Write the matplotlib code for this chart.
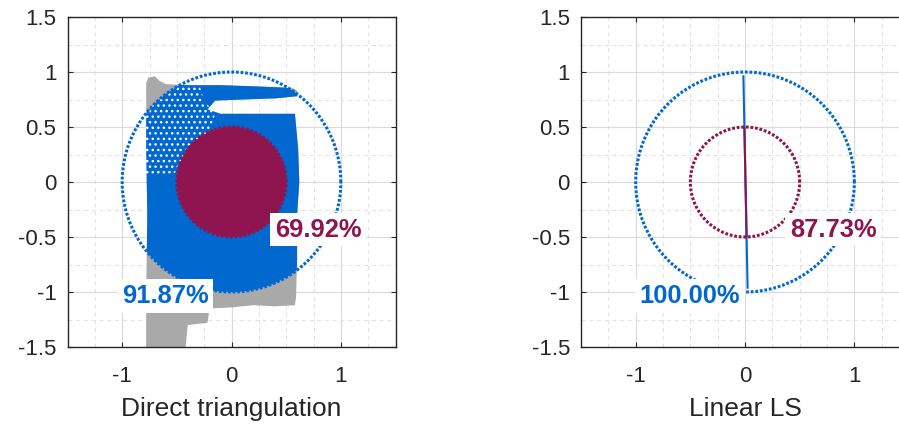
import numpy as np
import matplotlib
matplotlib.use("Agg")
import matplotlib.pyplot as plt
from matplotlib.patches import Polygon, Circle
from matplotlib.ticker import MultipleLocator

plt.rcParams["font.family"] = ["Liberation Sans", "DejaVu Sans"]

BLUE = "#0068CE"
MAROON = "#8E1550"
GRAY = "#A9A9A9"
INK = "#262626"

# error thresholds and share of estimates inside each of them
radii = [1.0, 0.5]
rates_direct = [91.87, 69.92]
rates_linear = [100.00, 87.73]
titles = ["Direct triangulation", "Linear LS"]

# footprint of the direct-triangulation estimates
cloud_x = [-0.78, -0.76, -0.70, -0.66, -0.60, -0.40, -0.10, 0.20, 0.45, 0.57,
           0.60, 0.60, 0.40, 0.10, -0.15, -0.22, -0.10, 0.30, 0.58, 0.61,
           0.62, 0.60, 0.60, 0.59, 0.58, 0.40, 0.20, 0.00, -0.20, -0.22,
           -0.40, -0.42, -0.78, -0.78, -0.77, -0.78]
cloud_y = [0.90, 0.95, 0.96, 0.92, 0.89, 0.88, 0.88, 0.87, 0.86, 0.85,
           0.83, 0.78, 0.76, 0.75, 0.74, 0.66, 0.62, 0.62, 0.62, 0.30,
           0.00, -0.30, -0.70, -1.05, -1.12, -1.13, -1.12, -1.14, -1.15, -1.28,
           -1.30, -1.50, -1.50, -1.00, -0.30, 0.30]

# thinly populated upper-left part of that footprint
sparse_x = [-0.80, -0.30, -0.25, -0.15, -0.20, -0.35, -0.45, -0.52, -0.80]
sparse_y = [0.97, 0.90, 0.74, 0.62, 0.45, 0.35, 0.22, 0.08, 0.05]

# linear LS estimates lie on a single segment
ls_x = [-0.015, 0.024]
ls_y = [0.97, -0.97]

# label anchors (left edge, baseline)
label_pos_outer = [(-1.0, -1.10), (-0.965, -1.10)]
label_pos_inner = [(0.395, -0.497), (0.41, -0.497)]

fig = plt.figure(figsize=(8.99, 4.34), dpi=100)
W, H = 899.0, 434.0
ax_left = fig.add_axes([67.5 / W, (H - 347) / H, 328 / W, 330 / H])
ax_right = fig.add_axes([581 / W, (H - 347) / H, 328 / W, 330 / H])

theta = np.linspace(0, 2 * np.pi, 721)


def style_axes(ax, title):
    ax.set_xlim(-1.5, 1.5)
    ax.set_ylim(-1.5, 1.5)
    ax.set_xticks([-1, 0, 1])
    ax.set_xticklabels(["-1", "0", "1"])
    yt = [-1.5, -1, -0.5, 0, 0.5, 1, 1.5]
    ax.set_yticks(yt)
    ax.set_yticklabels(["-1.5", "-1", "-0.5", "0", "0.5", "1", "1.5"])
    ax.xaxis.set_minor_locator(MultipleLocator(0.25))
    ax.yaxis.set_minor_locator(MultipleLocator(0.25))
    ax.grid(which="major", color="#DADADA", linewidth=0.8, linestyle="-", zorder=0)
    ax.grid(which="minor", color="#E2E2E2", linewidth=0.8,
            linestyle=(0, (3.5, 3.5)), zorder=0)
    ax.set_axisbelow(True)
    ax.tick_params(which="major", direction="in", length=3.6, width=0.8,
                   color=INK, top=True, right=True, labelsize=16,
                   labelcolor=INK)
    ax.tick_params(axis="x", which="major", pad=14)
    ax.tick_params(axis="y", which="major", pad=8)
    ax.tick_params(which="minor", length=0)
    for s in ax.spines.values():
        s.set_color(INK)
        s.set_linewidth(1.0)
    ax.set_xlabel(title, fontsize=19, color=INK, labelpad=7)


def threshold_circles(ax):
    for r, c in zip(radii, [BLUE, MAROON]):
        ax.plot(r * np.cos(theta), r * np.sin(theta), color=c, linewidth=2.2,
                linestyle=(0, (0.9, 0.6)), dash_capstyle="butt", zorder=5)


def rate_labels(ax, rates, k):
    for rate, pos, c in zip(rates, [label_pos_outer[k], label_pos_inner[k]],
                            [BLUE, MAROON]):
        ax.text(pos[0], pos[1], f"{rate:.2f}%", color=c, fontsize=18.4,
                fontweight="bold", ha="left", va="baseline", zorder=7,
                bbox=dict(facecolor="white", edgecolor="none",
                          boxstyle="square,pad=0.18"))


# ---- direct triangulation ----
ax = ax_left
style_axes(ax, titles[0])
pts = np.column_stack([cloud_x, cloud_y])
ax.add_patch(Polygon(pts, closed=True, facecolor=GRAY, edgecolor="none", zorder=2))
for r, c, z in zip(radii, [BLUE, MAROON], [3, 4]):
    clip = Circle((0, 0), r, transform=ax.transData)
    p = Polygon(pts, closed=True, facecolor=c, edgecolor="none", zorder=z)
    ax.add_patch(p)
    p.set_clip_path(clip)
    if r == radii[0]:
        sp = Polygon(np.column_stack([sparse_x, sparse_y]), closed=True,
                     facecolor="none", edgecolor="white", hatch="...",
                     linewidth=0, zorder=3.5)
        ax.add_patch(sp)
        sp.set_clip_path(Circle((0, 0), r, transform=ax.transData))
threshold_circles(ax)
rate_labels(ax, rates_direct, 0)

# ---- linear LS ----
ax = ax_right
style_axes(ax, titles[1])
ax.plot(ls_x, ls_y, color=BLUE, linewidth=1.5, zorder=3, solid_capstyle="butt")
inner, = ax.plot(ls_x, ls_y, color=MAROON, linewidth=1.5, zorder=4,
                 solid_capstyle="butt")
inner.set_clip_path(Circle((0, 0), radii[1], transform=ax.transData))
threshold_circles(ax)
rate_labels(ax, rates_linear, 1)

fig.savefig("out.png", dpi=100)
